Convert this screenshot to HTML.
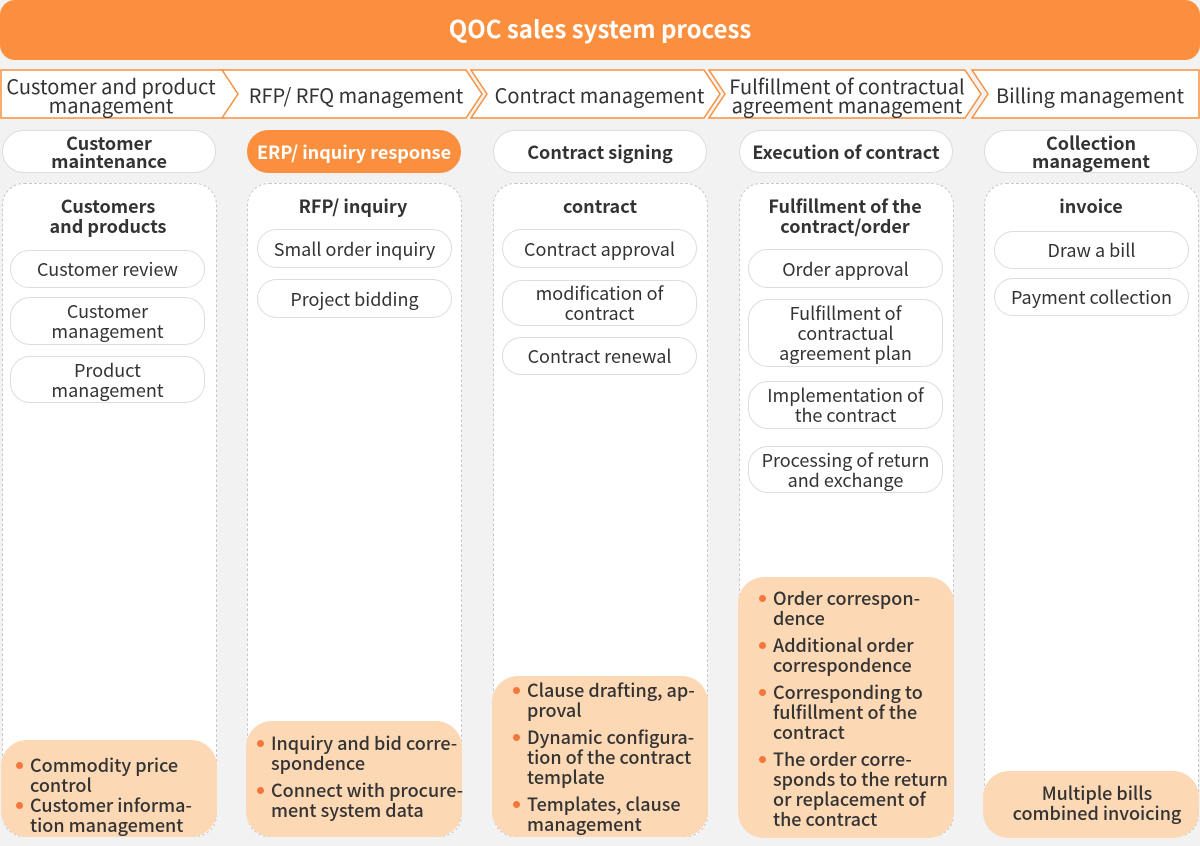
<!DOCTYPE html>
<html><head><meta charset="utf-8"><style>
*{margin:0;padding:0;box-sizing:border-box}
body{width:1200px;height:846px;background:#f2f2f2;position:relative;overflow:hidden;font-family:"Noto Sans CJK SC","Liberation Sans",sans-serif;color:#333}
.a{position:absolute}
.title{left:0;top:0;width:1200px;height:60px;background:#fb8f3e;border-radius:15px;color:#fff;font-weight:bold;font-size:24px;text-align:center;line-height:56px}
.ct{position:absolute;text-align:center;font-size:20px;line-height:19px;color:#333}
.stage{position:absolute;top:130px;height:43px;width:214px;background:#fff;border:1px solid #ddd;border-radius:22px;font-weight:bold;font-size:18px;line-height:18px;display:flex;align-items:center;justify-content:center;text-align:center;color:#333}
.stage.on{background:#fb8f3e;border-color:#fb8f3e;color:#fff}
.card{position:absolute;top:183px;height:654px;width:215px;background:#fff;border:1px dashed #c8c8c8;border-radius:22px}
.ch{position:absolute;width:214px;text-align:center;font-weight:bold;font-size:18px;line-height:20px;color:#333}
.it{position:absolute;width:195px;background:#fff;border:1px solid #ddd;border-radius:20px;font-size:18px;line-height:20px;display:flex;align-items:center;justify-content:center;text-align:center;color:#333}
.bx{position:absolute;width:216px;background:#fdd8b5;border-radius:26px;font-size:18px;line-height:20px;color:#333;font-weight:500}
.bx ul{list-style:none;position:absolute;left:35px;top:0;white-space:nowrap}
.bx li{position:relative;margin-bottom:7px}
.bx li:before{content:"";position:absolute;left:-14px;top:7px;width:7px;height:7px;border-radius:50%;background:#f5763c}
</style></head><body>
<div class="a title">QOC sales system process</div>
<svg class="a" style="left:0;top:0" width="1200" height="130">
<g fill="#fff" stroke="#f7913e" stroke-width="1.5">
<polygon points="1,70 225,70 241,94 225,118 1,118"/>
<polygon points="222,70 466,70 482,94 466,118 222,118 238,94"/>
<polygon points="471,70 704,70 720,94 704,118 471,118 487,94"/>
<polygon points="709,70 965,70 981,94 965,118 709,118 725,94"/>
<polygon points="972,70 1199,70 1199,118 972,118 988,94"/>
</g>
<g fill="#d0d0d0">
<polygon points="222,145 232,145 232,140 242,151 232,162 232,157 222,157"/>
<polygon points="469,145 479,145 479,140 489,151 479,162 479,157 469,157"/>
<polygon points="715,145 725,145 725,140 735,151 725,162 725,157 715,157"/>
<polygon points="960,145 970,145 970,140 980,151 970,162 970,157 960,157"/>
</g>
</svg>
<div class="ct" style="left:0;width:222px;top:76px">Customer and product<br>management</div>
<div class="ct" style="left:234px;width:244px;top:85px">RFP/ RFQ management</div>
<div class="ct" style="left:487px;width:225px;top:85px">Contract management</div>
<div class="ct" style="left:722px;width:250px;top:76px">Fulfillment of contractual<br>agreement management</div>
<div class="ct" style="left:984px;width:212px;top:85px">Billing management</div>

<div class="stage" style="left:2px">Customer<br>maintenance</div>
<div class="stage on" style="left:247px">ERP/ inquiry response</div>
<div class="stage" style="left:493px">Contract signing</div>
<div class="stage" style="left:739px">Execution of contract</div>
<div class="stage" style="left:984px">Collection<br>management</div>

<div class="card" style="left:2px"></div>
<div class="card" style="left:247px"></div>
<div class="card" style="left:493px"></div>
<div class="card" style="left:739px"></div>
<div class="card" style="left:984px"></div>

<div class="ch" style="left:1px;top:196px">Customers<br>and products</div>
<div class="ch" style="left:246px;top:196px">RFP/ inquiry</div>
<div class="ch" style="left:493px;top:196px">contract</div>
<div class="ch" style="left:738px;top:196px">Fulfillment of the<br>contract/order</div>
<div class="ch" style="left:984px;top:196px">invoice</div>

<div class="it" style="left:10px;top:250px;height:38px">Customer review</div>
<div class="it" style="left:10px;top:297px;height:48px">Customer<br>management</div>
<div class="it" style="left:10px;top:356px;height:47px">Product<br>management</div>

<div class="it" style="left:257px;top:229px;height:39px">Small order inquiry</div>
<div class="it" style="left:257px;top:279px;height:39px">Project bidding</div>

<div class="it" style="left:502px;top:229px;height:39px">Contract approval</div>
<div class="it" style="left:502px;top:280px;height:46px">modification of<br>contract</div>
<div class="it" style="left:502px;top:337px;height:38px">Contract renewal</div>

<div class="it" style="left:748px;top:249px;height:39px">Order approval</div>
<div class="it" style="left:748px;top:299px;height:68px">Fulfillment of<br>contractual<br>agreement plan</div>
<div class="it" style="left:748px;top:381px;height:48px">Implementation of<br>the contract</div>
<div class="it" style="left:748px;top:446px;height:47px">Processing of return<br>and exchange</div>

<div class="it" style="left:994px;top:231px;height:38px">Draw a bill</div>
<div class="it" style="left:994px;top:278px;height:38px">Payment collection</div>

<div class="bx" style="left:1px;top:740px;height:97px"><ul style="top:15px;left:29px"><li style="margin-bottom:0">Commodity price<br>control</li><li>Customer informa-<br>tion management</li></ul></div>
<div class="bx" style="left:246px;top:721px;height:116px"><ul style="top:12px;left:25px"><li>Inquiry and bid corre-<br>spondence</li><li>Connect with procure-<br>ment system data</li></ul></div>
<div class="bx" style="left:492px;top:676px;height:161px"><ul style="top:4px"><li>Clause drafting, ap-<br>proval</li><li>Dynamic configura-<br>tion of the contract<br>template</li><li>Templates, clause<br>management</li></ul></div>
<div class="bx" style="left:738px;top:577px;height:261px"><ul style="top:11px"><li>Order correspon-<br>dence</li><li>Additional order<br>correspondence</li><li>Corresponding to<br>fulfillment of the<br>contract</li><li>The order corre-<br>sponds to the return<br>or replacement of<br>the contract</li></ul></div>
<div class="bx" style="left:983px;top:771px;height:67px;text-align:center;padding-top:12px;padding-left:12px">Multiple bills<br>combined invoicing</div>
</body></html>
